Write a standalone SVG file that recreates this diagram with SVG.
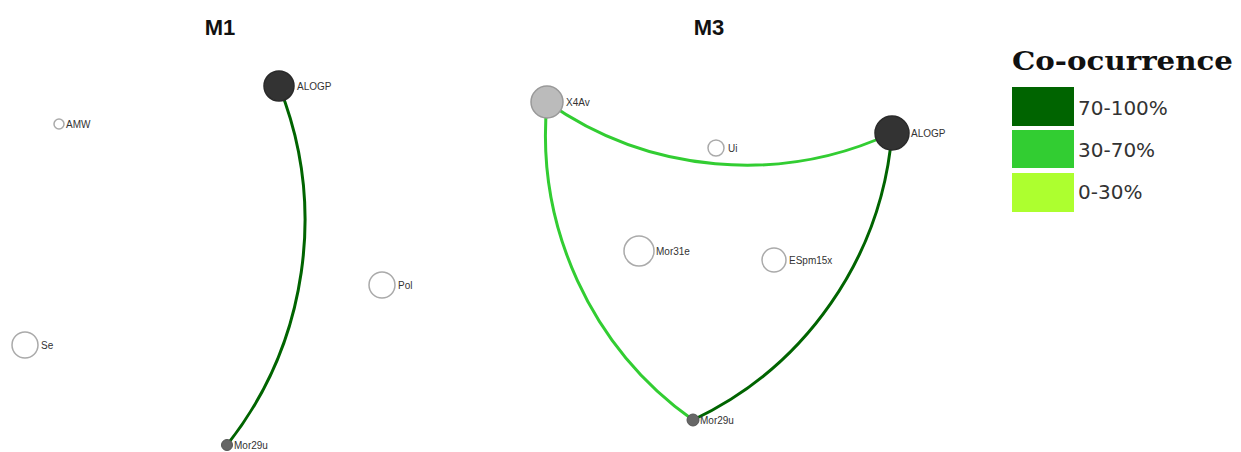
<svg xmlns="http://www.w3.org/2000/svg" width="1241" height="452" viewBox="0 0 1241 452">
<style>
.title{font-family:"Liberation Sans",Arial,sans-serif;font-weight:bold;font-size:22px;fill:#111;text-anchor:middle}
.lbl{font-family:"Liberation Sans",Arial,sans-serif;font-size:10px;fill:#333}
.n{fill:#fff;stroke:#aaa;stroke-width:1.5}
.dark{fill:#333;stroke:#2a2a2a;stroke-width:1.5}
.mid{fill:#666;stroke:#555;stroke-width:1}
.grey{fill:#bbb;stroke:#999;stroke-width:1.5}
.e{fill:none;stroke-width:3}
.hi{stroke:#006400}
.md{stroke:#32CD32}
.leg{font-family:"DejaVu Sans",Verdana,sans-serif;font-size:20px;fill:#333}
.legt{font-family:"DejaVu Serif","Liberation Serif",serif;font-weight:bold;font-size:26px;fill:#111}
</style>
<rect width="1241" height="452" fill="#fff"/>
<text class="title" x="220" y="35">M1</text>
<text class="title" x="709" y="35">M3</text>
<g id="connectors">
<path class="e hi" d="M279,86 A362,362 0 0 1 227,445"/>
<path class="e md" d="M547,102 A346,346 0 0 0 892,133"/>
<path class="e md" d="M547,102 A350,350 0 0 0 693,420"/>
<path class="e hi" d="M892,133 A349,349 0 0 1 693,420"/>
</g>
<g id="m1-ALOGP"><circle class="dark" cx="279" cy="86" r="15"/><text class="lbl" x="297" y="90">ALOGP</text></g>
<g id="m1-AMW"><circle class="n" cx="59" cy="124" r="5"/><text class="lbl" x="66" y="128">AMW</text></g>
<g id="m1-Pol"><circle class="n" cx="382" cy="285" r="13"/><text class="lbl" x="398" y="289">Pol</text></g>
<g id="m1-Se"><circle class="n" cx="25" cy="345" r="13"/><text class="lbl" x="41" y="349">Se</text></g>
<g id="m1-Mor29u"><circle class="mid" cx="227" cy="445" r="5.5"/><text class="lbl" x="234" y="449">Mor29u</text></g>
<g id="m3-X4Av"><circle class="grey" cx="547" cy="102" r="16"/><text class="lbl" x="566" y="106">X4Av</text></g>
<g id="m3-ALOGP"><circle class="dark" cx="892" cy="133" r="17"/><text class="lbl" x="911" y="137">ALOGP</text></g>
<g id="m3-Ui"><circle class="n" cx="716" cy="148" r="8"/><text class="lbl" x="728" y="152">Ui</text></g>
<g id="m3-Mor31e"><circle class="n" cx="639" cy="251" r="15"/><text class="lbl" x="656" y="255">Mor31e</text></g>
<g id="m3-ESpm15x"><circle class="n" cx="774" cy="260" r="12"/><text class="lbl" x="789" y="264">ESpm15x</text></g>
<g id="m3-Mor29u"><circle class="mid" cx="693" cy="420" r="6"/><text class="lbl" x="700" y="424">Mor29u</text></g>
<g id="legend">
<text class="legt" x="1012" y="70" textLength="221" lengthAdjust="spacingAndGlyphs">Co-ocurrence</text>
<rect x="1012" y="87" width="62" height="39" fill="#006400"/>
<rect x="1012" y="130" width="62" height="38" fill="#32CD32"/>
<rect x="1012" y="173" width="62" height="39" fill="#ADFF2F"/>
<text class="leg" x="1078" y="115">70-100%</text>
<text class="leg" x="1078" y="157">30-70%</text>
<text class="leg" x="1078" y="199">0-30%</text>
</g>
</svg>
